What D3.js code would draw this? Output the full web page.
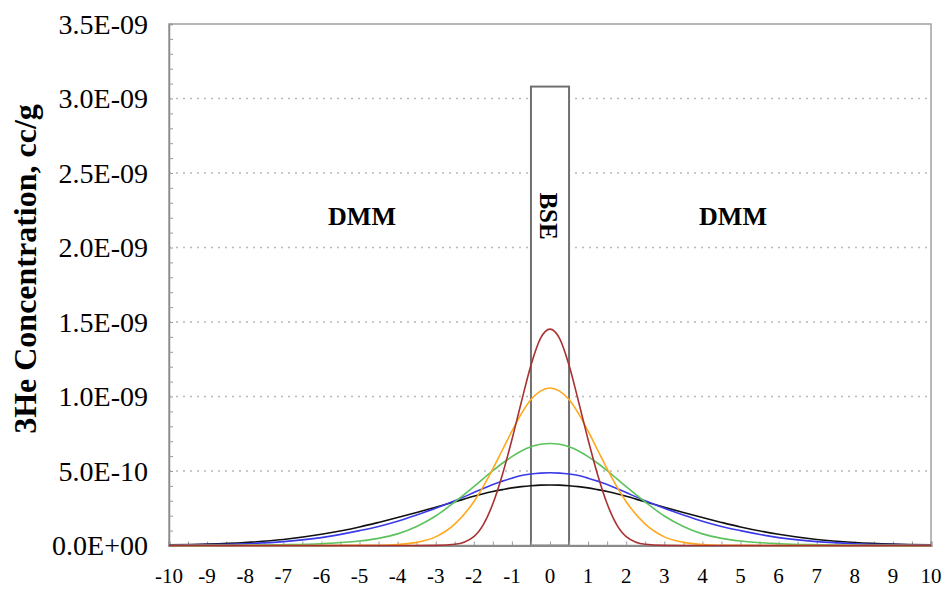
<!DOCTYPE html>
<html>
<head>
<meta charset="utf-8">
<script src="https://cdn.jsdelivr.net/npm/d3@7"></script>
<style>
  body { margin: 0; background: #fff; }
  svg text { font-family: "Liberation Serif", "Times New Roman", serif; }
</style>
</head>
<body>
<div class="container"></div>
<script>
// distance along the section, and 3He concentration in units of 1E-09 cc/g
var xs = [-10,-9,-8,-7,-6,-5,-4.5,-4,-3.5,-3,-2.5,-2,-1.75,-1.5,-1.25,-1,-0.75,-0.5,-0.25,
          0,0.25,0.5,0.75,1,1.25,1.5,1.75,2,2.5,3,3.5,4,4.5,5,6,7,8,9,10];

var black = [0.004,0.009,0.020,0.040,0.075,0.124,0.155,0.188,0.222,0.257,0.293,0.330,0.347,0.362,0.375,0.387,0.395,0.401,0.405,
             0.406,0.405,0.401,0.395,0.387,0.375,0.362,0.347,0.330,0.293,0.257,0.222,0.188,0.155,0.124,0.075,0.040,0.020,0.009,0.004];
var blue = [0.003,0.006,0.012,0.026,0.053,0.100,0.128,0.163,0.205,0.250,0.300,0.355,0.383,0.410,0.432,0.452,0.470,0.480,0.486,
            0.488,0.486,0.480,0.470,0.452,0.432,0.410,0.383,0.355,0.300,0.250,0.205,0.163,0.128,0.100,0.053,0.026,0.012,0.006,0.003];
var green = [0,0.001,0.002,0.005,0.012,0.030,0.048,0.078,0.128,0.198,0.292,0.395,0.449,0.502,0.552,0.596,0.634,0.662,0.679,
             0.685,0.679,0.662,0.634,0.596,0.552,0.502,0.449,0.395,0.292,0.198,0.128,0.078,0.048,0.030,0.012,0.005,0.002,0.001,0];
var orange = [0,0,0,0,0,0.001,0.002,0.007,0.021,0.058,0.143,0.294,0.397,0.514,0.641,0.767,0.885,0.980,1.036,
              1.057,1.036,0.980,0.885,0.767,0.641,0.514,0.397,0.294,0.143,0.058,0.021,0.007,0.002,0.001,0,0,0,0,0];
var red = [0,0,0,0,0,0,0,0,0,0.001,0.008,0.060,0.140,0.280,0.475,0.710,0.965,1.210,1.390,
           1.452,1.390,1.210,0.965,0.710,0.475,0.280,0.140,0.060,0.008,0.001,0,0,0,0,0,0,0,0,0];

// initial BSE layer
var bseRange = [-0.5, 0.5];
var bseValue = 3.08;

var xTicks = d3.range(-10, 11);
var yTicks = [0, 0.5, 1, 1.5, 2, 2.5, 3, 3.5];
var yTickLabels = ["0.0E+00","5.0E-10","1.0E-09","1.5E-09","2.0E-09","2.5E-09","3.0E-09","3.5E-09"];

var series = [
  {name: "black", values: black, color: "#111111"},
  {name: "blue", values: blue, color: "#3a3ae8"},
  {name: "green", values: green, color: "#5cc25c"},
  {name: "orange", values: orange, color: "#ffa81e"},
  {name: "red", values: red, color: "#a83232"}
];

var width = 944,
    height = 591,
    margin = {top: 24, right: 13, bottom: 45.5, left: 169};

var svg = d3.select(".container").append("svg")
    .attr("width", width)
    .attr("height", height);

var x = d3.scaleLinear()
    .domain([-10, 10])
    .range([margin.left, width - margin.right]);

var y = d3.scaleLinear()
    .domain([0, 3.5])
    .range([height - margin.bottom, margin.top]);

// dotted grid
svg.append("g")
  .selectAll("line")
  .data(yTicks.slice(1, -1))
  .join("line")
    .attr("x1", x(-10))
    .attr("x2", x(10))
    .attr("y1", d => y(d))
    .attr("y2", d => y(d))
    .attr("stroke", "#b8b8b8")
    .attr("stroke-width", 1.3)
    .attr("stroke-dasharray", "2,5");

// frame
svg.append("rect")
    .attr("x", x(-10))
    .attr("y", y(3.5))
    .attr("width", x(10) - x(-10))
    .attr("height", y(0) - y(3.5))
    .attr("fill", "none")
    .attr("stroke", "#a0a0a0")
    .attr("stroke-width", 1.5);

// BSE box
svg.append("rect")
    .attr("x", x(bseRange[0]))
    .attr("y", y(bseValue))
    .attr("width", x(bseRange[1]) - x(bseRange[0]))
    .attr("height", y(0) - y(bseValue))
    .attr("fill", "white")
    .attr("stroke", "#707070")
    .attr("stroke-width", 2);

// axes with inward ticks
svg.append("g")
    .attr("transform", `translate(${x(-10)},0)`)
    .call(d3.axisRight(y).tickValues(d3.range(0, 36).map(i => i / 10)).tickSize(4).tickFormat(""))
    .call(g => g.select(".domain").attr("stroke", "#8a8a8a").attr("stroke-width", 1.5))
    .call(g => g.selectAll(".tick line").attr("stroke", "#999"));

svg.append("g")
    .attr("transform", `translate(0,${y(0)})`)
    .call(d3.axisTop(x).tickValues(d3.range(-10, 10.5, 0.5)).tickSize(4).tickFormat(""))
    .call(g => g.select(".domain").attr("stroke", "#8a8a8a").attr("stroke-width", 2.2))
    .call(g => g.selectAll(".tick line").attr("stroke", "#999"));

// tick labels
svg.append("g")
  .selectAll("text")
  .data(yTicks)
  .join("text")
    .attr("x", 148)
    .attr("y", d => y(d))
    .attr("dy", "0.35em")
    .attr("text-anchor", "end")
    .style("font-size", "28px")
    .text((d, i) => yTickLabels[i]);

svg.append("g")
  .selectAll("text")
  .data(xTicks)
  .join("text")
    .attr("x", d => x(d))
    .attr("y", 576)
    .attr("dy", "0.35em")
    .attr("text-anchor", "middle")
    .style("font-size", "21px")
    .text(d => d);

// curves
var line = d3.line()
    .x((d, i) => x(xs[i]))
    .y(d => y(d))
    .curve(d3.curveMonotoneX);

svg.append("g")
  .selectAll("path")
  .data(series)
  .join("path")
    .attr("d", d => line(d.values))
    .attr("fill", "none")
    .attr("stroke", d => d.color)
    .attr("stroke-width", 1.6);

// labels
svg.append("text")
    .attr("x", 362)
    .attr("y", 216)
    .attr("dy", "0.35em")
    .attr("text-anchor", "middle")
    .style("font-size", "26px")
    .style("font-weight", "bold")
    .text("DMM");

svg.append("text")
    .attr("x", 733)
    .attr("y", 216)
    .attr("dy", "0.35em")
    .attr("text-anchor", "middle")
    .style("font-size", "26px")
    .style("font-weight", "bold")
    .text("DMM");

svg.append("text")
    .attr("transform", `translate(${x(0) - 1},216) rotate(90)`)
    .attr("dy", "0.35em")
    .attr("text-anchor", "middle")
    .style("font-size", "25px")
    .style("font-weight", "bold")
    .text("BSE");

svg.append("text")
    .attr("transform", "translate(25,269) rotate(-90)")
    .attr("dy", "0.35em")
    .attr("text-anchor", "middle")
    .style("font-size", "32px")
    .style("font-weight", "bold")
    .text("3He Concentration, cc/g");
</script>
</body>
</html>
